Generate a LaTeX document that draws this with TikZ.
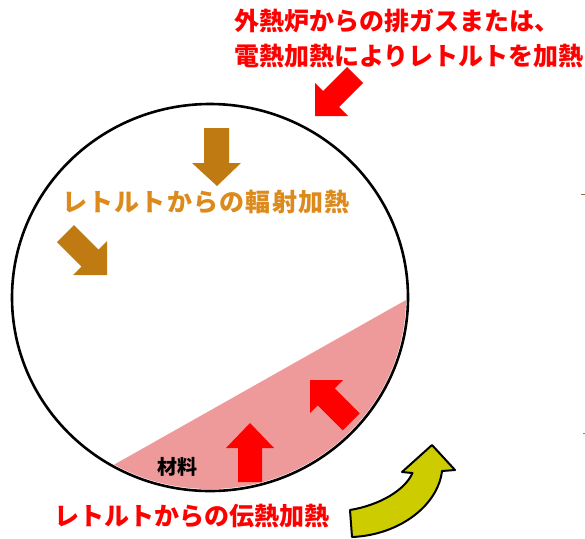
\documentclass[tikz,border=0pt]{standalone}
\usepackage{fontspec}
\setmainfont{Noto Sans CJK JP}
\definecolor{myred}{RGB}{255,0,0}
\definecolor{brownarrow}{RGB}{192,122,18}
\definecolor{browntext}{RGB}{221,138,28}
\definecolor{matpink}{RGB}{238,154,154}
\definecolor{olive}{RGB}{204,204,0}
\begin{document}
\begin{tikzpicture}[x=1pt,y=-1pt,
  lbl/.style={inner sep=0pt, anchor=west, font=\bfseries\fontsize{25}{25}\selectfont},
  redtxt/.style={lbl, text=myred},
  browntxt/.style={lbl, text=browntext},
  redarrow/.style={fill=myred},
  brownarr/.style={fill=brownarrow},
  rotarrow/.style={fill=olive, draw=black, line width=2pt, line join=round}]
\useasboundingbox (0,0) rectangle (585,538);
\fill[white] (0,0) rectangle (585,538);

% material region
\begin{scope}
  \clip (210,297.5) ellipse [x radius=196pt, y radius=191.5pt];
  \fill[matpink] (100,472.6) -- (420,292.1) -- (420,520) -- (100,520) -- cycle;
\end{scope}

% retort
\draw[line width=2.6pt] (210,297.5) ellipse [x radius=198pt, y radius=193.5pt];

% texts
\node[redtxt] (t1) at (234,21.5) {外熱炉からの排ガスまたは、};
\node[redtxt] (t2) at (234,56) {電熱加熱によりレトルトを加熱};
\node[browntxt] (t3) at (62,202) {\addfontfeature{LetterSpace=5}レトルトからの輻射加熱};
\node[redtxt] (t4) at (54,516) {レトルトからの伝熱加熱};
\node[inner sep=0pt, font=\bfseries\fontsize{20}{20}\selectfont] (mat) at (177,467) {材料};

% outer red arrow (down-left)
\fill[redarrow] (347,67) -- (323,91) -- (315,83) -- (315,116) -- (348,116) -- (339,107) -- (363,83) -- cycle;

% brown arrows
\fill[brownarr] (204,128) -- (229,128) -- (229,163) -- (241,163) -- (217,186) -- (192,163) -- (204,163) -- cycle;
\fill[brownarr] (57,242) -- (74,225) -- (98.5,249.5) -- (107,241) -- (107,275) -- (73,275) -- (81.5,266.5) -- cycle;

% red arrows in material
\fill[redarrow] (238,482) -- (238,448) -- (226,448) -- (250,423) -- (274,448) -- (262,448) -- (262,482) -- cycle;
\fill[redarrow] (310,380) -- (343,380) -- (334.75,388.25) -- (359.75,413.25) -- (342.75,430.25) -- (317.75,405.25) -- (310,413) -- cycle;

% rotation arrow
\draw[rotarrow] (350,510) .. controls (380,505) and (405,490) .. (412.5,473)
  -- (402,472) -- (432,445) -- (455,470) -- (442,471)
  .. controls (438,505) and (400,535) .. (352,537) -- cycle;

% tiny edge marks
\draw[line width=1pt, color={rgb,255:red,150;green,100;blue,70}] (581,194) -- (585,194);
\draw[line width=1pt, color=gray] (583,433) -- (585,433);
\end{tikzpicture}
\end{document}
